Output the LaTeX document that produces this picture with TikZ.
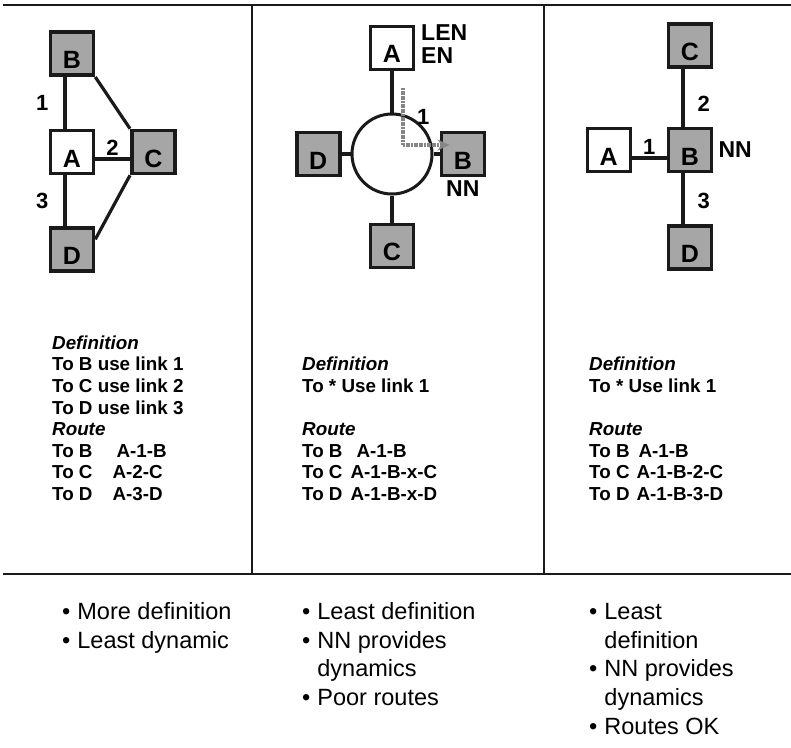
\documentclass[tikz,border=0pt]{standalone}
\usepackage{fontspec}
\setmainfont{Liberation Sans}
\usetikzlibrary{
  arrows.meta,
  positioning
}
\definecolor{nnink}{HTML}{1A1A1A}
\definecolor{nnshade}{HTML}{A6A6A6}
\definecolor{nnroute}{HTML}{858585}

\begin{document}
\begin{tikzpicture}[
      x=1pt, y=-1pt,
      box/.style={
        rectangle, minimum size=43pt, inner sep=0pt,
        draw=nnink, line width=3pt, fill=white,
        font=\fontsize{25}{25}\selectfont\bfseries,
        text height=30pt, text depth=0pt
      },
      nbox/.style={box, fill=nnshade, line width=3.6pt},
      hub/.style={circle, minimum size=80pt, draw=nnink, line width=3pt},
      link/.style={draw=nnink, line width=3.2pt},
      route/.style={-{Stealth[length=12pt, width=11pt]}, draw=nnroute, line width=4.4pt,
        dash pattern=on 2pt off 0.6pt},
      lnum/.style={font=\fontsize{22}{22}\selectfont\bfseries, inner sep=1pt},
      tag/.style={font=\fontsize{23}{23}\selectfont\bfseries, inner sep=0pt},
      defn/.style={font=\fontsize{18.8}{21.6}\selectfont\bfseries, align=left,
        inner sep=0pt, anchor=north west},
      pros/.style={font=\fontsize{23.5}{28.7}\selectfont, inner sep=0pt, anchor=north west},
      frame/.style={draw=nnink, line width=1.6pt}
    ]
      \useasboundingbox (0,0) rectangle (791,747);

      % table rules
      \draw[frame] (3,5) -- (791,5);
      \draw[frame] (3,574) -- (791,574);
      \draw[frame] (252,5) -- (252,574);
      \draw[frame] (544,5) -- (544,574);

      % links to every node
      \node[box] (A1) at (72,152) {A};
      \node[nbox, above=52pt of A1] (B1) {B};
      \node[nbox, right=35pt of A1] (C1) {C};
      \node[nbox, below=51pt of A1] (D1) {D};

      \draw[link] ([xshift=-7pt]B1.south) -- node[lnum, left=14pt] (l11) {1} ([xshift=-7pt]A1.north);
      \draw[link] ([yshift=-7pt]A1.east) -- node[lnum, above=1pt] (l12) {2} ([yshift=-7pt]C1.west);
      \draw[link] ([xshift=-7pt]A1.south) -- node[lnum, left=14pt] (l13) {3} ([xshift=-7pt]D1.north);
      \draw[link] (B1.south east) -- (C1.north west);
      \draw[link] (C1.south west) -- ([yshift=10pt]D1.east);

      % LAN with network node
      \node[hub] (hub) at (392,154) {};
      \node[box, above=42pt of hub] (A2) {A};
      \node[nbox, left=9pt of hub] (D2) {D};
      \node[nbox, right=6pt of hub] (B2) {B};
      \node[nbox, below=27pt of hub] (C2) {C};

      \draw[link] (A2) -- (hub);
      \draw[link] (D2) -- (hub);
      \draw[link] (hub) -- (B2);
      \draw[link] (hub) -- (C2);

      \node[tag, anchor=north west] (len) at ([xshift=6pt]A2.north east) {LEN};
      \node[tag, below=7pt of len.south west, anchor=north west] (en) {EN};
      \node[tag, below=3pt of B2] (nn2) {NN};

      \coordinate (rt) at (403,88);
      \draw[route] (rt) |- node[lnum, pos=0.25, right=11pt] (l21) {1} ([xshift=10pt, yshift=9pt]B2.west);

      % point to point via network node
      \node[nbox] (B3) at (690,150) {B};
      \node[box, left=35pt of B3] (A3) {A};
      \node[nbox, above=58pt of B3] (C3) {C};
      \node[nbox, below=51pt of B3] (D3) {D};

      \draw[link] ([yshift=-8pt]A3.east) -- node[lnum, above=1pt] (l31) {1} ([yshift=-8pt]B3.west);
      \draw[link] ([xshift=-7pt]C3.south) -- node[lnum, pos=0.6, right=12pt] (l32) {2} ([xshift=-7pt]B3.north);
      \draw[link] ([xshift=-7pt]B3.south) -- node[lnum, pos=0.55, right=12pt] (l33) {3} ([xshift=-7pt]D3.north);
      \node[tag, right=5pt of B3] (nn3) {NN};

      % definitions and routes
      \node[defn] (def1) at (52,335.5) {\textit{Definition}\\To B use link 1\\To C use link 2\\To D use link 3\\
        \textit{Route}\\To B\hspace{24pt}A-1-B\\To C\hspace{20pt}A-2-C\\To D\hspace{20pt}A-3-D};
      \node[defn] (def2) at (302,357) {\textit{Definition}\\To * Use link 1\\[21.6pt]
        \textit{Route}\\To B\hspace{14pt}A-1-B\\To C\hspace{8pt}A-1-B-x-C\\To D\hspace{8pt}A-1-B-x-D};
      \node[defn] (def3) at (589,357) {\textit{Definition}\\To * Use link 1\\[21.6pt]
        \textit{Route}\\To B\hspace{9pt}A-1-B\\To C\hspace{7pt}A-1-B-2-C\\To D\hspace{7pt}A-1-B-3-D};

      % summary
      \node[pros] (pro1) at (62,599) {\begin{tabular}{@{}l@{\hspace{7pt}}l@{}}
        \textbullet & More definition\\ \textbullet & Least dynamic\end{tabular}};
      \node[pros] (pro2) at (302,599) {\begin{tabular}{@{}l@{\hspace{7pt}}l@{}}
        \textbullet & Least definition\\ \textbullet & NN provides\\ & dynamics\\
        \textbullet & Poor routes\end{tabular}};
      \node[pros] (pro3) at (589,599) {\begin{tabular}{@{}l@{\hspace{7pt}}l@{}}
        \textbullet & Least\\ & definition\\ \textbullet & NN provides\\ & dynamics\\
        \textbullet & Routes OK\end{tabular}};
    \end{tikzpicture}
\end{document}
